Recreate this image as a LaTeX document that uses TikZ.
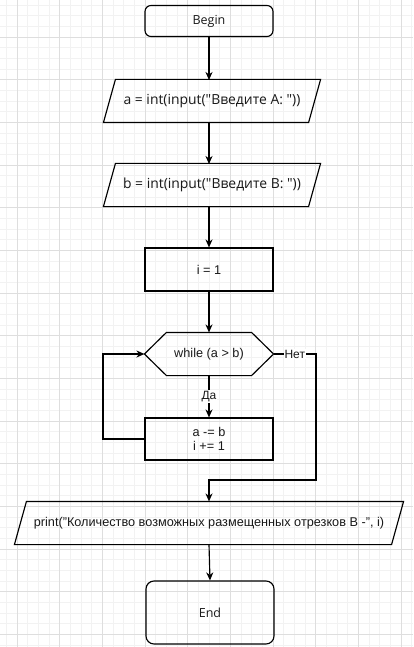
\documentclass[tikz,border=0pt]{standalone}
\usepackage{fontspec}
\setmainfont{Liberation Sans}
\newfontfamily\uifont{Open Sans}
\usetikzlibrary{arrows.meta,calc}
\begin{document}
\begin{tikzpicture}[x=1pt,y=-1pt,
  line width=1.15pt,
  >={Stealth[length=8pt,width=7pt,inset=2.5pt]},
  gridminor/.style={line width=0.7pt,draw=black!5},
  gridmajor/.style={line width=0.8pt,draw=black!13},
  txt/.style={inner sep=0pt,font=\fontsize{12.7}{14.7}\selectfont,text=black!90},
  uitxt/.style={inner sep=0pt,font=\uifont\fontsize{12.5}{14.5}\selectfont,text=black!90},
  iotxt/.style={inner sep=0pt,font=\uifont\fontsize{13.9}{16}\selectfont,text=black!90},
  terminal/.style={uitxt,draw,rounded corners=6pt,minimum width=128pt},
  procbox/.style={txt,draw,minimum width=128pt,minimum height=43pt,align=center},
  iobox/.style={minimum height=42pt},
  hexbox/.style={txt,minimum width=128pt,minimum height=42pt},
  lbl/.style={fill=white,inner sep=1pt,font=\fontsize{12}{14}\selectfont,text=black!90},
  conn/.style={draw,->}]
\useasboundingbox (0,0) rectangle (413,647);
\fill[white] (0,0) rectangle (413,647);
% grid
\foreach \k in {-1,...,37} {\draw[gridminor] ({17+10.667*\k},0) -- ({17+10.667*\k},647);}
\foreach \k in {-3,...,57} {\draw[gridminor] (0,{37+10.667*\k}) -- (413,{37+10.667*\k});}
\foreach \k in {0,...,9} {\draw[gridmajor] ({17+42.667*\k},0) -- ({17+42.667*\k},647);}
\foreach \k in {-1,...,14} {\draw[gridmajor] (0,{37+42.667*\k}) -- (413,{37+42.667*\k});}
% nodes
\node[terminal,minimum height=31pt] (begin) at (209,21) {Begin};
\node[iotxt,iobox,minimum width=204pt] (pa) at (212,101) {a = int(input("Введите A: "))};
\node[iotxt,iobox,minimum width=204pt] (pb) at (212,185) {b = int(input("Введите B: "))};
\node[procbox] (init) at (209,269.5) {i = 1};
\node[hexbox] (loop) at (209,354) {while (a > b)};
\node[procbox,minimum height=42pt] (body) at (209,439) {a -= b\\i += 1};
\node[txt,iobox,minimum width=376pt] (out) at (209,523) {print("Количество возможных размещенных отрезков В -", i)};
\node[terminal,minimum height=63pt,rounded corners=8pt] (end) at (210,612.5) {End};
% shapes
\foreach \n in {pa,pb,out} {
  \draw ($(\n.south west)+(-6,0)$) -- ($(\n.north west)+(6,0)$) -- ($(\n.north east)+(6,0)$) -- ($(\n.south east)+(-6,0)$) -- cycle;
}
\draw (loop.west) -- ($(loop.north west)+(22,0)$) -- ($(loop.north east)+(-22,0)$) -- (loop.east)
  -- ($(loop.south east)+(-22,0)$) -- ($(loop.south west)+(22,0)$) -- cycle;
% connectors
\coordinate (la) at (209,80);
\coordinate (lb) at (209,164);
\draw[conn] (begin.south) -- (la);
\draw[conn] (209,122) -- (lb);
\draw[conn] (209,206) -- (init.north);
\draw[conn] (init.south) -- (loop.north);
\draw[conn] (loop.south) -- node[lbl,pos=0.5]{Да} (body.north);
\coordinate (bl) at (103,439);
\draw[conn] (body.west) -- (bl) |- (loop.west);
\coordinate (n1) at (316,354);
\coordinate (n2) at (316,480);
\draw[conn] (loop.east) -- node[lbl]{Нет} (n1) -- (n2) -| (out.north);
\draw[conn] (out.south) -- (end.north);
\end{tikzpicture}
\end{document}
